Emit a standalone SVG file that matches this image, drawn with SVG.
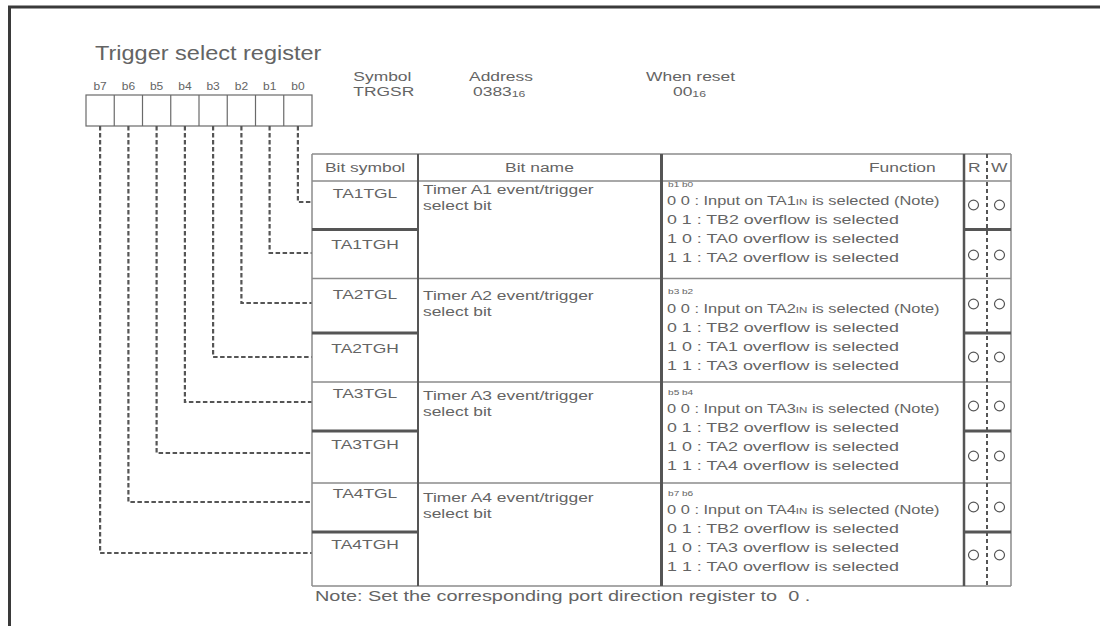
<svg xmlns="http://www.w3.org/2000/svg" width="1100" height="626" viewBox="0 0 1100 626">
<style>
text{font-family:"Liberation Sans",Arial,Helvetica,sans-serif;fill:#646464}
.t{font-size:13.5px}
.lbl{font-size:10px}
.tiny{font-size:8px}
.sub{font-size:9.5px}
.mid{text-anchor:middle}
.thin{stroke:#8c8c8c;stroke-width:1.5;fill:none}
.thick{stroke:#555;stroke-width:3;fill:none}
.dash{stroke:#555;stroke-width:2.2;fill:none;stroke-dasharray:4.5 2.5}
.rwdiv{stroke:#555;stroke-width:2;fill:none;stroke-dasharray:4 3}
.mark{fill:none;stroke:#555;stroke-width:1.2}
.box{fill:#fff;stroke:#6a6a6a;stroke-width:1.2}
</style>
<rect width="1100" height="626" fill="#fff"/>
<!-- page frame -->
<path d="M9.5 626V7H1100" stroke="#3a3a3a" stroke-width="3" fill="none"/>

<!-- register title -->
<g id="title" transform="scale(1.2 1)">
  <text x="79.2" y="60" style="font-size:19.6px">Trigger select register</text>
</g>

<!-- 8-bit register boxes -->
<g id="register">
  <rect class="box" x="86" y="95" width="226" height="31"/>
  <path class="box" d="M114.25 95V126M142.5 95V126M170.75 95V126M199 95V126M227.25 95V126M255.5 95V126M283.75 95V126"/>
  <g transform="scale(1.2 1)" class="lbl mid">
    <text x="83.4" y="90">b7</text>
    <text x="107" y="90">b6</text>
    <text x="130.5" y="90">b5</text>
    <text x="154.1" y="90">b4</text>
    <text x="177.6" y="90">b3</text>
    <text x="201.2" y="90">b2</text>
    <text x="224.7" y="90">b1</text>
    <text x="248.3" y="90">b0</text>
  </g>
</g>

<!-- symbol, address and reset value -->
<g id="register-info" transform="scale(1.29 1)" class="t">
  <text x="273.9" y="81">Symbol</text>
  <text x="273.9" y="96">TRGSR</text>
  <text x="363.6" y="81">Address</text>
  <text x="366.7" y="96">0383<tspan class="sub" dy="1">16</tspan></text>
  <text x="500.8" y="81">When reset</text>
  <text x="521.7" y="96">00<tspan class="sub" dy="1">16</tspan></text>
</g>

<!-- bit-to-field connectors -->
<g id="connectors">
  <path class="dash" d="M297.9 126V202H312"/>
  <path class="dash" d="M269.6 126V253H312"/>
  <path class="dash" d="M241.4 126V303H312"/>
  <path class="dash" d="M213.1 126V357H312"/>
  <path class="dash" d="M184.9 126V402H312"/>
  <path class="dash" d="M156.6 126V453H312"/>
  <path class="dash" d="M128.4 126V502H312"/>
  <path class="dash" d="M100.1 126V553H312"/>
</g>

<!-- table grid -->
<g id="table">
  <path class="thin" d="M312 154H1011M312 181H1011M312 278.5H1011M312 382H1011M312 483H1011M312 586H1011"/>
  <path class="thin" d="M312 154V586M1011 154V586"/>
  <path class="thick" style="stroke-width:2" d="M418 154V586"/>
  <path class="thick" d="M661.5 154V586"/>
  <path class="thick" style="stroke-width:2.5" d="M964 154V586"/>
  <path class="thick" d="M312 229.5H418M312 333H418M312 431H418M312 532H418"/>
  <path class="thick" d="M964 229.5H1011M964 333H1011M964 431H1011M964 532H1011"/>
  <path class="rwdiv" d="M987 154V586"/>
  <g transform="scale(1.29 1)" class="t">
    <text class="mid" x="283" y="172">Bit symbol</text>
    <text class="mid" x="418.2" y="172">Bit name</text>
    <text x="673.6" y="172">Function</text>
    <text x="750.4" y="172">R</text>
    <text x="768.2" y="172">W</text>
  </g>
</g>

<!-- Timer A1 trigger field -->
<g id="field-ta1">
  <g transform="scale(1.29 1)" class="t">
    <text class="mid" x="283" y="198">TA1TGL</text>
    <text class="mid" x="283" y="249">TA1TGH</text>
    <text x="327.9" y="194">Timer A1 event/trigger</text>
    <text x="327.9" y="210">select bit</text>
  </g>
  <g transform="scale(1.215 1)" class="t">
    <text x="549" y="205">0 0 : Input on TA1<tspan class="sub">IN</tspan> is selected (Note)</text>
  </g>
  <g transform="scale(1.26 1)" class="t">
    <text class="tiny" x="530.2" y="187">b1 b0</text>
    <text x="529.4" y="224" textLength="184" lengthAdjust="spacingAndGlyphs">0 1 : TB2 overflow is selected</text>
    <text x="529.4" y="243" textLength="184" lengthAdjust="spacingAndGlyphs">1 0 : TA0 overflow is selected</text>
    <text x="529.4" y="262" textLength="184" lengthAdjust="spacingAndGlyphs">1 1 : TA2 overflow is selected</text>
  </g>
  <ellipse class="mark" cx="973.5" cy="205" rx="5" ry="4.8"/>
  <ellipse class="mark" cx="999.5" cy="205" rx="5" ry="4.8"/>
  <ellipse class="mark" cx="973.5" cy="255" rx="5" ry="4.8"/>
  <ellipse class="mark" cx="999.5" cy="255" rx="5" ry="4.8"/>
</g>

<!-- Timer A2 trigger field -->
<g id="field-ta2">
  <g transform="scale(1.29 1)" class="t">
    <text class="mid" x="283" y="299">TA2TGL</text>
    <text class="mid" x="283" y="353">TA2TGH</text>
    <text x="327.9" y="300">Timer A2 event/trigger</text>
    <text x="327.9" y="316">select bit</text>
  </g>
  <g transform="scale(1.215 1)" class="t">
    <text x="549" y="313">0 0 : Input on TA2<tspan class="sub">IN</tspan> is selected (Note)</text>
  </g>
  <g transform="scale(1.26 1)" class="t">
    <text class="tiny" x="530.2" y="294">b3 b2</text>
    <text x="529.4" y="332" textLength="184" lengthAdjust="spacingAndGlyphs">0 1 : TB2 overflow is selected</text>
    <text x="529.4" y="351" textLength="184" lengthAdjust="spacingAndGlyphs">1 0 : TA1 overflow is selected</text>
    <text x="529.4" y="370" textLength="184" lengthAdjust="spacingAndGlyphs">1 1 : TA3 overflow is selected</text>
  </g>
  <ellipse class="mark" cx="973.5" cy="304" rx="5" ry="4.8"/>
  <ellipse class="mark" cx="999.5" cy="304" rx="5" ry="4.8"/>
  <ellipse class="mark" cx="973.5" cy="357" rx="5" ry="4.8"/>
  <ellipse class="mark" cx="999.5" cy="357" rx="5" ry="4.8"/>
</g>

<!-- Timer A3 trigger field -->
<g id="field-ta3">
  <g transform="scale(1.29 1)" class="t">
    <text class="mid" x="283" y="398">TA3TGL</text>
    <text class="mid" x="283" y="449">TA3TGH</text>
    <text x="327.9" y="400">Timer A3 event/trigger</text>
    <text x="327.9" y="416">select bit</text>
  </g>
  <g transform="scale(1.215 1)" class="t">
    <text x="549" y="413">0 0 : Input on TA3<tspan class="sub">IN</tspan> is selected (Note)</text>
  </g>
  <g transform="scale(1.26 1)" class="t">
    <text class="tiny" x="530.2" y="395">b5 b4</text>
    <text x="529.4" y="432" textLength="184" lengthAdjust="spacingAndGlyphs">0 1 : TB2 overflow is selected</text>
    <text x="529.4" y="451" textLength="184" lengthAdjust="spacingAndGlyphs">1 0 : TA2 overflow is selected</text>
    <text x="529.4" y="470" textLength="184" lengthAdjust="spacingAndGlyphs">1 1 : TA4 overflow is selected</text>
  </g>
  <ellipse class="mark" cx="973.5" cy="406" rx="5" ry="4.8"/>
  <ellipse class="mark" cx="999.5" cy="406" rx="5" ry="4.8"/>
  <ellipse class="mark" cx="973.5" cy="456" rx="5" ry="4.8"/>
  <ellipse class="mark" cx="999.5" cy="456" rx="5" ry="4.8"/>
</g>

<!-- Timer A4 trigger field -->
<g id="field-ta4">
  <g transform="scale(1.29 1)" class="t">
    <text class="mid" x="283" y="498">TA4TGL</text>
    <text class="mid" x="283" y="549">TA4TGH</text>
    <text x="327.9" y="502">Timer A4 event/trigger</text>
    <text x="327.9" y="518">select bit</text>
  </g>
  <g transform="scale(1.215 1)" class="t">
    <text x="549" y="514">0 0 : Input on TA4<tspan class="sub">IN</tspan> is selected (Note)</text>
  </g>
  <g transform="scale(1.26 1)" class="t">
    <text class="tiny" x="530.2" y="496">b7 b6</text>
    <text x="529.4" y="533" textLength="184" lengthAdjust="spacingAndGlyphs">0 1 : TB2 overflow is selected</text>
    <text x="529.4" y="552" textLength="184" lengthAdjust="spacingAndGlyphs">1 0 : TA3 overflow is selected</text>
    <text x="529.4" y="571" textLength="184" lengthAdjust="spacingAndGlyphs">1 1 : TA0 overflow is selected</text>
  </g>
  <ellipse class="mark" cx="973.5" cy="507" rx="5" ry="4.8"/>
  <ellipse class="mark" cx="999.5" cy="507" rx="5" ry="4.8"/>
  <ellipse class="mark" cx="973.5" cy="555" rx="5" ry="4.8"/>
  <ellipse class="mark" cx="999.5" cy="555" rx="5" ry="4.8"/>
</g>

<!-- footnote -->
<g id="note" transform="scale(1.284 1)">
  <text x="245.3" y="601" style="font-size:15.5px">Note: Set the corresponding port direction register to&#160; 0 .</text>
</g>
</svg>
